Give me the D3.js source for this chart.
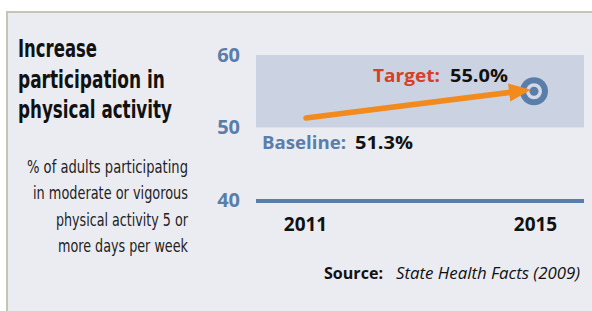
<!DOCTYPE html>
<html>
<head>
<meta charset="utf-8">
<script src="https://cdn.jsdelivr.net/npm/d3@7"></script>
<style>
  html, body { margin: 0; padding: 0; background: #ffffff; }
  svg { display: block; }
</style>
</head>
<body>
<svg id="chart" width="592" height="311"></svg>
<script>
// ---- data ----
const years = [2011, 2015];
const values = [51.3, 55.0];
const pointLabels = ["Baseline:", "Target:"];
const yTicks = [40, 50, 60];
const bandRange = [50, 60];
const titleLines = ["Increase", "participation in", "physical activity"];
const subtitleLines = ["% of adults participating", "in moderate or vigorous", "physical activity 5 or", "more days per week"];
const sourceLabel = "Source:";
const sourceText = "State Health Facts (2009)";

// ---- styles ----
const BLUE = "#5a7ea9";
const RED = "#d83f27";
const ORANGE = "#f28a1e";
const PANEL = "#ebecf2";
const BAND = "#cbd3e2";
const NARROW = "'DejaVu Sans', sans-serif";
const SANS = "'Open Sans', 'Noto Sans', sans-serif";

const svg = d3.select("#chart");

function fit(sel, w) {
  sel.attr("textLength", w).attr("lengthAdjust", "spacingAndGlyphs");
  return sel;
}
// horizontally scale a text (drawn at origin of its own group) to width w
function squeeze(xp, yp, w, anchorRight, styler, str) {
  const g = svg.append("g");
  const t = g.append("text").attr("x", 0).attr("y", 0).text(str);
  styler(t);
  const nat = t.node().getComputedTextLength();
  const s = w / nat;
  const left = anchorRight ? xp - w : xp;
  g.attr("transform", `translate(${left},${yp}) scale(${s},1)`);
  return t;
}

// panel
svg.append("rect").attr("x", 6).attr("y", 11).attr("width", 586).attr("height", 300).attr("fill", PANEL);
svg.append("line").attr("x1", 6).attr("x2", 592).attr("y1", 12).attr("y2", 12).attr("stroke", "#c4c5b4").attr("stroke-width", 2);
svg.append("line").attr("x1", 7).attr("x2", 7).attr("y1", 11).attr("y2", 311).attr("stroke", "#c4c5b4").attr("stroke-width", 2);

// title
const titleW = [79, 147, 154];
titleLines.forEach((t, i) => squeeze(18, 57 + i * 30.5, titleW[i], false,
  s => s.attr("font-family", NARROW).attr("font-stretch", "condensed").attr("font-weight", "bold")
        .attr("font-size", 25.5).attr("fill", "#111"), t));

// subtitle
const subW = [161, 155, 132, 130];
subtitleLines.forEach((t, i) => squeeze(188, 173 + i * 26.3, subW[i], true,
  s => s.attr("font-family", NARROW).attr("font-stretch", "condensed").attr("font-size", 17)
        .attr("fill", "#222"), t));

// scales
const plotLeft = 256, plotRight = 584;
const x = d3.scaleLinear().domain(years).range([305, 535]);
const y = d3.scaleLinear().domain([40, 60]).range([200, 55]);

// band
svg.append("rect")
  .attr("x", plotLeft).attr("width", plotRight - plotLeft)
  .attr("y", y(bandRange[1])).attr("height", y(bandRange[0]) - y(bandRange[1]))
  .attr("fill", BAND);

// y axis
const yAxis = svg.append("g").attr("transform", `translate(${plotLeft},0)`)
  .call(d3.axisLeft(y).tickValues(yTicks).tickSize(0).tickPadding(16));
yAxis.select(".domain").remove();
yAxis.selectAll("text").attr("font-family", SANS).attr("font-weight", "bold").attr("font-size", 20).attr("fill", BLUE);

// base rule at 40
svg.append("line").attr("x1", plotLeft).attr("x2", plotRight).attr("y1", y(40) + 1).attr("y2", y(40) + 1)
  .attr("stroke", BLUE).attr("stroke-width", 4);

// x axis
const xAxis = svg.append("g").attr("transform", `translate(0,${y(40)})`)
  .call(d3.axisBottom(x).tickValues(years).tickFormat(d3.format("d")).tickSize(0).tickPadding(18));
xAxis.select(".domain").remove();
xAxis.selectAll("text").attr("font-family", SANS).attr("font-weight", "bold").attr("font-size", 19).attr("fill", "#111");

// target marker
const tx = x(years[1]) - 1, ty = y(values[1]);
svg.append("circle").attr("cx", tx).attr("cy", ty).attr("r", 14).attr("fill", BLUE);
svg.append("circle").attr("cx", tx).attr("cy", ty).attr("r", 8).attr("fill", "#d3dae7");
svg.append("circle").attr("cx", tx).attr("cy", ty).attr("r", 4.5).attr("fill", BLUE);

// arrow
const x0 = x(years[0]) + 1, y0 = y(values[0]);
const tipX = tx - 3, tipY = ty - 1.5;
const ang = Math.atan2(tipY - y0, tipX - x0);
const headLen = 22, headHalf = 9;
const bx = tipX - headLen * Math.cos(ang), by = tipY - headLen * Math.sin(ang);
svg.append("line").attr("x1", x0).attr("y1", y0).attr("x2", bx + 2 * Math.cos(ang)).attr("y2", by + 2 * Math.sin(ang))
  .attr("stroke", ORANGE).attr("stroke-width", 5.5).attr("stroke-linecap", "round");
svg.append("path")
  .attr("d", `M${tipX},${tipY} L${bx - headHalf * Math.sin(ang)},${by + headHalf * Math.cos(ang)} L${bx + headHalf * Math.sin(ang)},${by - headHalf * Math.cos(ang)} Z`)
  .attr("fill", ORANGE);

// point labels
function label(xp, yp, parts) {
  parts.forEach(p => fit(svg.append("text").attr("x", xp + p.dx).attr("y", yp)
    .attr("font-family", SANS).attr("font-weight", "bold").attr("font-size", 18)
    .attr("fill", p.fill).text(p.text), p.w));
}
label(262, 149, [
  { text: pointLabels[0], fill: BLUE, dx: 0, w: 84 },
  { text: values[0].toFixed(1) + "%", fill: "#111", dx: 93, w: 58 }
]);
label(373, 82, [
  { text: pointLabels[1], fill: RED, dx: 0, w: 67 },
  { text: values[1].toFixed(1) + "%", fill: "#111", dx: 77, w: 58 }
]);

// source
fit(svg.append("text").attr("x", 324).attr("y", 279).attr("font-family", SANS).attr("font-weight", "bold")
  .attr("font-size", 16).attr("fill", "#111").text(sourceLabel), 59);
fit(svg.append("text").attr("x", 396).attr("y", 279).attr("font-family", SANS).attr("font-style", "italic")
  .attr("font-size", 16).attr("fill", "#111").text(sourceText), 184);
</script>
</body>
</html>
